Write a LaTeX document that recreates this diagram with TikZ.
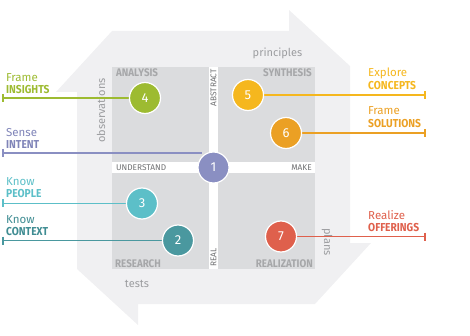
\documentclass[tikz,border=0pt]{standalone}
\usepackage{fontspec}
\setmainfont{Fira Sans}
\newfontfamily\cb{Fira Sans}[FakeStretch=0.89]
\definecolor{bandc}{HTML}{F0F0F2}
\definecolor{quadc}{HTML}{DBDCDE}
\definecolor{qtext}{HTML}{A6A7A9}
\definecolor{stext}{HTML}{707173}
\definecolor{gtext}{HTML}{9C9DA0}
\definecolor{cGreen}{HTML}{9DBB31}
\definecolor{cBlue}{HTML}{8A8FC2}
\definecolor{cBlueT}{HTML}{7F84B8}
\definecolor{cTealL}{HTML}{5CBFC8}
\definecolor{cTealD}{HTML}{4A989F}
\definecolor{cTealDT}{HTML}{3F8C92}
\definecolor{cYellow}{HTML}{F5B71E}
\definecolor{cOrange}{HTML}{EBA024}
\definecolor{cRed}{HTML}{DF604C}
\pgfdeclarelayer{fg}
\pgfsetlayers{main,fg}
\begin{document}
\begin{tikzpicture}[x=1pt,y=-1pt,
  circ/.style={circle, draw=white, line width=1.2pt, minimum size=31pt, inner sep=0pt, text=white, font=\fontsize{13}{13}\selectfont},
  lbl/.style={anchor=base west, inner sep=0pt, font=\fontsize{11.5}{12}\selectfont},
  lblb/.style={anchor=base west, inner sep=0pt, font={\cb\bfseries\fontsize{11.5}{12}\selectfont}},
  conn/.style={line width=1.3pt},
  qlab/.style={inner sep=0pt, text=qtext, font={\cb\bfseries\fontsize{11}{11}\selectfont}},
  slab/.style={inner sep=0pt, text=stext, font=\fontsize{8.3}{9}\selectfont},
  glab/.style={inner sep=0pt, text=gtext, font=\fontsize{11}{12}\selectfont}]
\useasboundingbox (0,0) rectangle (470,336);
% background cycle of arrows
\fill[bandc] (112,31) -- (289,31) -- (289,10) -- (350,66) -- (350,243) -- (371,243)
  -- (315,304) -- (138,304) -- (138,325) -- (77,269) -- (77,92) -- (56,92) -- cycle;
% inner square and quadrants
\fill[white] (112,67) rectangle (315,269);
\fill[quadc] (112,67) rectangle (209,162);
\fill[quadc] (218,67) rectangle (315,162);
\fill[quadc] (112,173) rectangle (209,269);
\fill[quadc] (218,173) rectangle (315,269);
% quadrant labels
\node[qlab, anchor=base west] (qA) at (116,77) {ANALYSIS};
\node[qlab, anchor=base east] (qS) at (312,77) {SYNTHESIS};
\node[qlab, anchor=base west] (qR) at (115,267) {RESEARCH};
\node[qlab, anchor=base east] (qZ) at (313,267) {REALIZATION};
% strip labels
\node[slab, anchor=west] (sU) at (116,167.5) {UNDERSTAND};
\node[slab, anchor=east] (sM) at (312,167.5) {MAKE};
\node[slab, rotate=90, anchor=east] (sA) at (213.5,69) {ABSTRACT};
\node[slab, rotate=90, anchor=west] (sR) at (213.5,267) {REAL};
% band labels
\node[glab, rotate=90] (gO) at (101,110.5) {observations};
\node[glab, anchor=base] (gP) at (277.5,56.5) {principles};
\node[glab, anchor=base] (gT) at (137,287) {tests};
\node[glab, rotate=-90] (gL) at (327,242) {plans};
% circles
\begin{pgfonlayer}{fg}
\node[circ, fill=cBlue] (c1) at (213.5,167.5) {1};
\node[circ, fill=cTealD] (c2) at (178,240.5) {2};
\node[circ, fill=cTealL] (c3) at (142,203.5) {3};
\node[circ, fill=cGreen] (c4) at (145,98) {4};
\node[circ, fill=cYellow] (c5) at (248,95) {5};
\node[circ, fill=cOrange] (c6) at (286,133) {6};
\node[circ, fill=cRed] (c7) at (281,236.5) {7};
\end{pgfonlayer}
% free ends
\coordinate (tIns) at (3,98);
\coordinate (tInt) at (3,153);
\coordinate (tPeo) at (3,203.5);
\coordinate (tCon) at (3,240.5);
\coordinate (tCnc) at (425,95);
\coordinate (tSol) at (425,133);
\coordinate (tOff) at (425,236.5);
% connectors
\draw[conn, cGreen] (tIns) -- (c4);
\draw[conn, cGreen] ([yshift=4pt]tIns) -- ([yshift=-4pt]tIns);
\draw[conn, cBlue] (tInt) -- (tInt -| c1.north west);
\draw[conn, cBlue] ([yshift=4pt]tInt) -- ([yshift=-4pt]tInt);
\draw[conn, cTealL] (tPeo) -- (c3);
\draw[conn, cTealL] ([yshift=4pt]tPeo) -- ([yshift=-4pt]tPeo);
\draw[conn, cTealD] (tCon) -- (c2);
\draw[conn, cTealD] ([yshift=4pt]tCon) -- ([yshift=-4pt]tCon);
\draw[conn, cYellow] (c5) -- (tCnc);
\draw[conn, cYellow] ([yshift=4pt]tCnc) -- ([yshift=-4pt]tCnc);
\draw[conn, cOrange] (c6) -- (tSol);
\draw[conn, cOrange] ([yshift=4pt]tSol) -- ([yshift=-4pt]tSol);
\draw[conn, cRed] (c7) -- (tOff);
\draw[conn, cRed] ([yshift=4pt]tOff) -- ([yshift=-4pt]tOff);
% side labels
\node[lbl, text=cGreen] (l4a) at (6,82) {Frame};
\node[lblb, text=cGreen] (l4b) at (6,94) {INSIGHTS};
\node[lbl, text=cBlueT] (l1a) at (6,137) {Sense};
\node[lblb, text=cBlueT] (l1b) at (6,149) {INTENT};
\node[lbl, text=cTealL] (l3a) at (6,186) {Know};
\node[lblb, text=cTealL] (l3b) at (6,198) {PEOPLE};
\node[lbl, text=cTealDT] (l2a) at (6,223) {Know};
\node[lblb, text=cTealDT] (l2b) at (6,235) {CONTEXT};
\node[lbl, text=cYellow] (l5a) at (368,77) {Explore};
\node[lblb, text=cYellow] (l5b) at (368,90) {CONCEPTS};
\node[lbl, text=cOrange] (l6a) at (368,115) {Frame};
\node[lblb, text=cOrange] (l6b) at (368,128) {SOLUTIONS};
\node[lbl, text=cRed] (l7a) at (368,219) {Realize};
\node[lblb, text=cRed] (l7b) at (368,232) {OFFERINGS};
\end{tikzpicture}
\end{document}
